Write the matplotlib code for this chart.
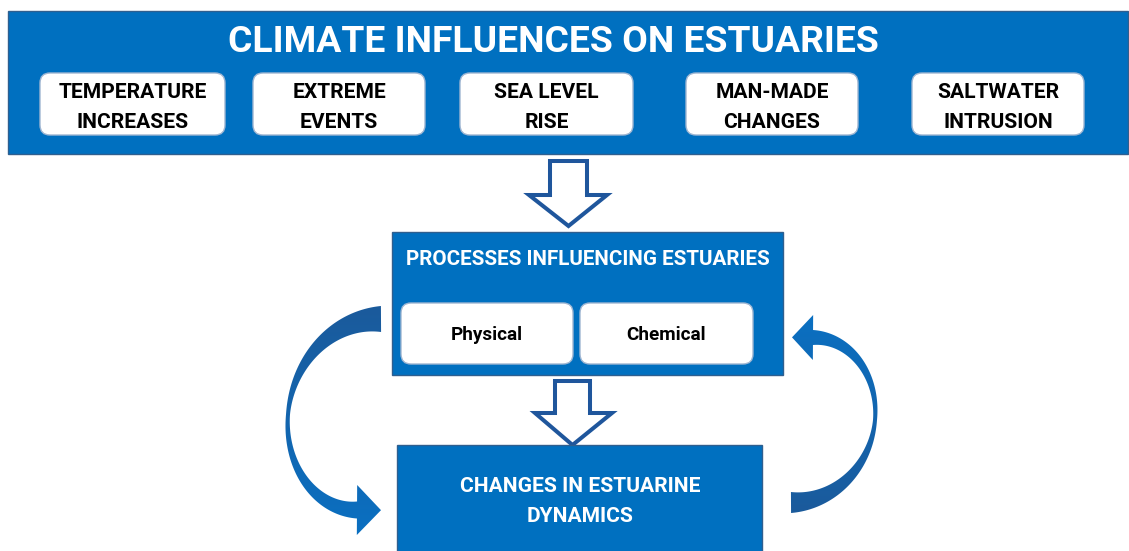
import numpy as np
import matplotlib
matplotlib.use("Agg")
import matplotlib.pyplot as plt
from matplotlib.patches import FancyBboxPatch, Rectangle, Polygon
from matplotlib.colors import LinearSegmentedColormap

# ---------------- content ----------------
title_text = "CLIMATE INFLUENCES ON ESTUARIES"
influence_labels = ["TEMPERATURE\nINCREASES", "EXTREME\nEVENTS", "SEA LEVEL\nRISE",
                    "MAN-MADE\nCHANGES", "SALTWATER\nINTRUSION"]
process_title = "PROCESSES INFLUENCING ESTUARIES"
process_labels = ["Physical", "Chemical"]
outcome_text = "CHANGES IN ESTUARINE\nDYNAMICS"

# ---------------- style ----------------
BLUE = "#0070C0"
EDGE = "#2F5F8F"
ARROW_EDGE = "#1F569C"
DARK = "#1B5A9B"
LIGHT = "#0A70C2"
FONT = "Roboto"

W, H = 1129, 551
fig = plt.figure(figsize=(W / 100, H / 100), dpi=100)
ax = fig.add_axes([0, 0, 1, 1])
ax.set_xlim(0, W)
ax.set_ylim(H, 0)
ax.axis("off")


def rect(x0, y0, x1, y1, fc=BLUE, ec=EDGE, lw=1.0, z=1):
    ax.add_patch(Rectangle((x0, y0), x1 - x0, y1 - y0, facecolor=fc, edgecolor=ec, lw=lw, zorder=z))


def rbox(x0, y0, x1, y1, r=10, z=3):
    ax.add_patch(FancyBboxPatch((x0, y0), x1 - x0, y1 - y0,
                                boxstyle=f"round,pad=0,rounding_size={r}",
                                facecolor="white", edgecolor="#9FB6D2", lw=1.0, zorder=z))


texts = []


def label(s, x, y, color, target_width, ref=None):
    t = ax.text(x, y, s, ha="center", va="baseline", fontsize=20, fontweight="bold",
                family=FONT, color=color, zorder=6)
    texts.append((t, target_width, ref))
    return t


# ---------------- top banner ----------------
rect(8, 11, 1128, 154)
label(title_text, 553, 52, "white", 649)

box_x = [(40, 225), (253, 425), (460, 633), (686, 858), (912, 1084)]
for (x0, x1), lab in zip(box_x, influence_labels):
    rbox(x0, 73, x1, 135)
    l1, l2 = lab.split("\n")
    cx = (x0 + x1) / 2
    label(l1, cx, 98.5, "black", None, ref="top")
    label(l2, cx, 128.5, "black", None, ref="top")

# ---------------- hollow arrows ----------------
def hollow_down(xl, xr, ytop, yhead, hl, hr, ytip):
    xc = (xl + xr) / 2
    pts = [(xl, ytop), (xr, ytop), (xr, yhead), (hr, yhead), (xc, ytip),
           (hl, yhead), (xl, yhead)]
    ax.add_patch(Polygon(pts, closed=True, facecolor="white", edgecolor=ARROW_EDGE,
                         lw=2.9, joinstyle="miter", zorder=2))

hollow_down(550, 587, 161, 195, 529, 607, 226)
hollow_down(555, 590, 381, 413, 535, 612, 445)

# ---------------- process box ----------------
rect(392, 232, 783, 375, z=3)
label(process_title, 588, 265, "white", 365)
proc_x = [(401, 573), (580, 753)]
for (x0, x1), lab in zip(proc_x, process_labels):
    rbox(x0, 303, x1, 364, r=10, z=4)
    label(lab, (x0 + x1) / 2, 340.5, "black", None, ref="proc")

# ---------------- outcome box ----------------
rect(397, 445, 762, 560, z=3)
o1, o2 = outcome_text.split("\n")
label(o1, 580, 492, "white", 239)
label(o2, 580, 521.5, "white", None, ref="out")


# ---------------- curved arrows ----------------
def curved_arrow(x0, y0, x1, y1, A, side, w0, wmid, w1, head_len, head_w, dark_at_top):
    t = np.linspace(0, 1, 300)
    phi = np.pi * t
    x = x0 + (x1 - x0) * t + side * A * np.sin(phi)
    y = y0 + (y1 - y0) * (1 - np.cos(phi)) / 2
    dx = np.gradient(x)
    dy = np.gradient(y)
    n = np.hypot(dx, dy)
    tx, ty = dx / n, dy / n
    nx, ny = -ty, tx
    s = np.abs(2 * t - 1) ** 1.4
    w = np.where(t < 0.5, wmid + (w0 - wmid) * s, wmid + (w1 - wmid) * s)
    ax_ = x + nx * w / 2
    ay_ = y + ny * w / 2
    bx_ = x - nx * w / 2
    by_ = y - ny * w / 2
    ex, ey = x[-1], y[-1]
    etx, ety = tx[-1], ty[-1]
    enx, eny = nx[-1], ny[-1]
    h1 = (ex + enx * head_w / 2, ey + eny * head_w / 2)
    h2 = (ex - enx * head_w / 2, ey - eny * head_w / 2)
    tip = (ex + etx * head_len, ey + ety * head_len)
    pts = list(zip(ax_, ay_)) + [h1, tip, h2] + list(zip(bx_[::-1], by_[::-1]))
    poly = Polygon(pts, closed=True, facecolor="none", edgecolor="none", zorder=2)
    ax.add_patch(poly)
    pts = np.array(pts)
    xmin, xmax = pts[:, 0].min() - 2, pts[:, 0].max() + 2
    ymin, ymax = pts[:, 1].min() - 2, pts[:, 1].max() + 2
    grad = np.linspace(0, 1, 256).reshape(-1, 1)
    cols = [DARK, LIGHT] if dark_at_top else [LIGHT, DARK]
    cmap = LinearSegmentedColormap.from_list("g", cols)
    im = ax.imshow(grad, extent=(xmin, xmax, ymin, ymax), origin="lower", cmap=cmap,
                   aspect="auto", zorder=2, interpolation="bilinear")
    im.set_clip_path(poly)

curved_arrow(381, 319, 357, 510, 81, -1, 26, 4, 17, 24, 50, True)
curved_arrow(791, 502.5, 813, 337.5, 73, +1, 21, 4, 15, 21, 45, False)

ax.set_xlim(0, W)
ax.set_ylim(H, 0)

# ---------------- fit text sizes to measured widths ----------------
fig.canvas.draw()
r = fig.canvas.get_renderer()
ref_sizes = {}
group_targets = {"top": ("TEMPERATURE", 148), "proc": ("Chemical", 79)}
for key, (s, wt) in group_targets.items():
    tt = ax.text(0, 0, s, fontsize=20, fontweight="bold", family=FONT)
    bb = tt.get_window_extent(r)
    ref_sizes[key] = 20 * wt / bb.width
    tt.remove()
for t, wt, ref in texts:
    if wt is not None:
        bb = t.get_window_extent(r)
        fs = 20 * wt / bb.width
        t.set_fontsize(fs)
        if t.get_text() == o1:
            ref_sizes["out"] = fs
for t, wt, ref in texts:
    if wt is None:
        t.set_fontsize(ref_sizes[ref])

fig.savefig("out.png", dpi=100)
